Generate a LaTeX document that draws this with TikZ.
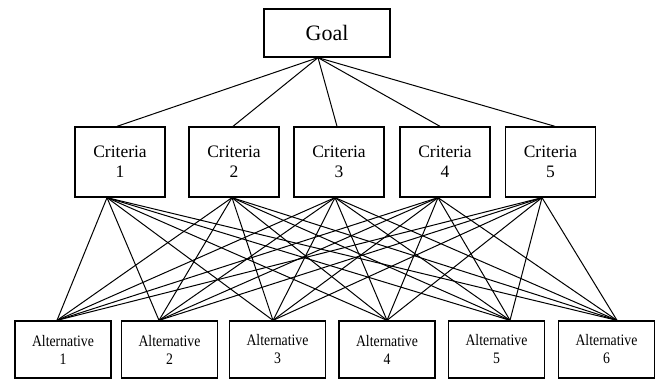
\documentclass[tikz,border=0pt]{standalone}
\usepackage{fontspec}
\setmainfont{Liberation Serif}
\newfontfamily\altfont[FakeStretch=0.86]{Liberation Serif}
\begin{document}
\begin{tikzpicture}[x=1pt,y=1pt,
  boxbase/.style={draw=black, line width=1.3pt, fill=white, inner sep=0pt, align=center},
  goalbox/.style={boxbase, minimum width=126pt, minimum height=48pt, font=\fontsize{22}{24}\selectfont},
  critbox/.style={boxbase, minimum width=90pt, minimum height=70pt, font=\fontsize{17.5}{20}\selectfont},
  altbox/.style={boxbase, minimum width=96pt, minimum height=57pt, font=\altfont\fontsize{16}{18}\selectfont},
  link/.style={draw=black, line width=1pt}]
\useasboundingbox (0,0) rectangle (660,-379);
\fill[white] (0,0) rectangle (660,-379);

\node[goalbox] (g) at (327,-33) {Goal};

\node[critbox] (c1) at (120,-162) {Criteria\\1};
\node[critbox] (c2) at (234,-162) {Criteria\\2};
\node[critbox] (c3) at (339,-162) {Criteria\\3};
\node[critbox] (c4) at (445,-162) {Criteria\\4};
\node[critbox] (c5) at (550.5,-162) {Criteria\\5};

\node[altbox] (a1) at (63,-349.5) {Alternative\\1};
\node[altbox] (a2) at (169.5,-349.5) {Alternative\\2};
\node[altbox] (a3) at (277.5,-349.5) {Alternative\\3};
\node[altbox] (a4) at (387,-349.5) {Alternative\\4};
\node[altbox] (a5) at (496.5,-349.5) {Alternative\\5};
\node[altbox] (a6) at (606.5,-349.5) {Alternative\\6};

\coordinate (gb) at ([xshift=-9pt]g.south);
\coordinate (c1t) at ([xshift=-3pt]c1.north);
\coordinate (c2t) at ([xshift=-1pt]c2.north);
\coordinate (c3t) at ([xshift=-2pt]c3.north);
\coordinate (c4t) at ([xshift=-5pt]c4.north);
\coordinate (c5t) at ([xshift=4.5pt]c5.north);
\coordinate (c1b) at ([xshift=-13pt]c1.south);
\coordinate (c2b) at ([xshift=-2pt]c2.south);
\coordinate (c3b) at ([xshift=-4pt]c3.south);
\coordinate (c4b) at ([xshift=-7pt]c4.south);
\coordinate (c5b) at ([xshift=-8.5pt]c5.south);
\coordinate (a1t) at ([xshift=-6pt]a1.north);
\coordinate (a2t) at ([xshift=-10.5pt]a2.north);
\coordinate (a3t) at ([xshift=-4.5pt]a3.north);
\coordinate (a4t) at (a4.north);
\coordinate (a5t) at ([xshift=13.5pt]a5.north);
\coordinate (a6t) at ([xshift=10.5pt]a6.north);

\foreach \c in {1,...,5} {
  \draw[link] (gb) -- (c\c t);
  \foreach \a in {1,...,6} {
    \draw[link] (c\c b) -- (a\a t);
  }
}
\end{tikzpicture}
\end{document}
